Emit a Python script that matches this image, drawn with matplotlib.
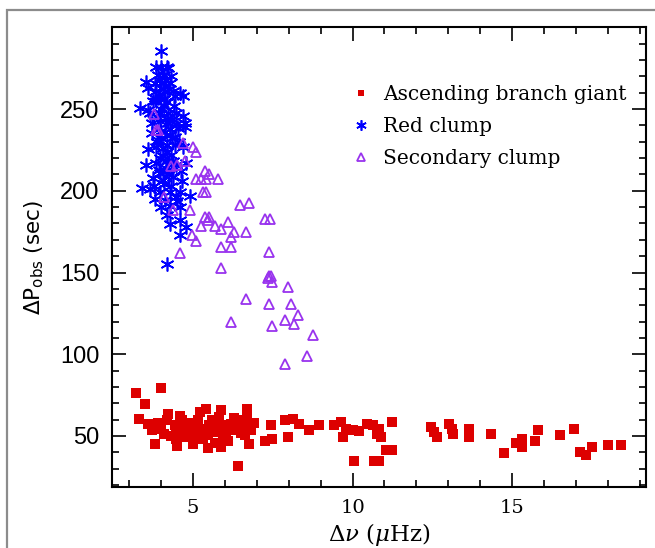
import numpy as np
import matplotlib
matplotlib.use("Agg")
import matplotlib.pyplot as plt
from matplotlib.patches import Rectangle
from matplotlib.ticker import MultipleLocator

# ascending branch giants (red squares)
rgb_dnu = [3.20, 3.99, 3.51, 3.31, 3.59, 3.70, 3.80, 4.01, 4.19, 4.22,
           4.43, 4.48, 4.48, 4.50, 4.64, 4.69, 4.79, 4.77, 5.00, 5.00,
           5.16, 5.23, 5.42, 5.26, 5.36, 5.47, 5.47, 5.63, 5.73, 5.83,
           5.89, 5.94, 5.94, 5.89, 6.04, 6.20, 6.25, 6.41, 6.46, 6.56,
           6.62, 6.70, 6.72, 6.77, 6.82, 7.27, 7.45, 7.48, 7.87, 7.97,
           8.13, 8.33, 8.65, 8.96, 9.43, 9.64, 9.69, 9.79, 10.05, 10.00,
           10.21, 10.47, 10.65, 10.83, 10.78, 10.89, 10.68, 10.83, 11.04, 11.25,
           11.25, 12.45, 12.55, 12.66, 13.02, 13.13, 13.16, 13.65, 13.65, 14.34,
           14.74, 15.14, 15.31, 15.31, 15.73, 15.83, 16.51, 16.93, 17.14, 17.31,
           17.52, 18.02, 18.42,
           4.60, 5.10, 5.30, 5.60, 5.90, 6.10, 6.30, 6.50, 4.90, 4.30,
           3.90, 5.70, 6.70, 6.90, 4.10, 5.50]
rgb_dp = [76.5, 79.4, 69.4, 60.5, 57.1, 53.5, 45.0, 54.5, 59.5, 63.6,
          56.5, 52.4, 48.4, 43.8, 59.5, 55.5, 52.4, 49.4, 50.4, 45.0,
          59.5, 64.6, 66.6, 54.5, 53.5, 50.4, 42.4, 56.5, 52.4, 61.5,
          65.6, 56.5, 49.4, 43.0, 50.4, 57.5, 53.5, 31.6, 59.5, 54.5,
          50.4, 66.6, 57.5, 45.4, 53.5, 46.8, 56.5, 48.4, 59.5, 49.4,
          60.5, 57.5, 53.5, 56.5, 56.5, 58.5, 49.4, 54.5, 34.8, 53.5,
          52.8, 57.5, 56.5, 54.5, 51.5, 49.4, 34.8, 34.8, 41.7, 41.7,
          58.5, 55.5, 52.4, 49.4, 57.5, 54.5, 51.5, 54.5, 49.4, 51.5,
          39.7, 45.8, 48.4, 43.3, 47.0, 53.5, 50.4, 54.5, 40.3, 38.3,
          43.3, 44.4, 44.4,
          62.0, 55.0, 48.0, 60.0, 53.0, 47.0, 61.0, 52.0, 58.0, 50.0,
          58.0, 46.0, 62.0, 58.0, 51.0, 57.0]

# red clump (blue asterisks)
rc_dnu = [4.01, 3.85, 4.01, 4.17, 4.22, 3.90, 4.10, 3.54, 3.59, 3.80,
          4.01, 4.27, 4.58, 4.69, 3.85, 4.11, 4.37, 3.33, 3.59, 3.75,
          3.96, 4.17, 4.43, 3.64, 3.96, 4.22, 4.48, 4.69, 3.70, 3.96,
          4.22, 4.48, 4.74, 3.70, 4.01, 4.27, 4.53, 4.74, 3.59, 3.85,
          4.17, 4.43, 4.69, 3.54, 3.85, 4.17, 4.48, 4.79, 3.75, 4.06,
          4.37, 4.64, 3.39, 3.64, 3.96, 4.27, 4.58, 4.90, 3.80, 4.11,
          4.48, 4.27, 4.58, 4.27, 4.58, 4.79, 4.58, 4.19, 3.90, 4.05,
          4.30, 4.15, 3.95, 4.35, 4.55, 4.10, 3.80, 4.00,
          3.95, 4.15, 4.30, 4.05, 4.25, 3.85, 4.40, 4.10, 3.90, 4.20,
          4.35, 4.00, 4.12, 4.28, 3.88, 4.45, 4.05, 4.20, 3.98, 4.38,
          4.15, 3.92, 4.25, 4.08, 4.32, 4.62, 3.78, 4.50, 4.00, 4.18]
rc_dp = [285.7, 276.0, 276.0, 276.0, 275.0, 270.9, 270.9, 266.3, 262.8, 265.8,
         265.8, 265.8, 259.8, 258.1, 260.8, 260.8, 260.8, 250.7, 249.7, 255.0,
         258.0, 254.0, 258.0, 247.6, 247.6, 247.6, 247.6, 246.0, 241.6, 242.5,
         241.6, 240.8, 241.6, 235.5, 236.5, 237.5, 238.5, 239.0, 225.8, 226.8,
         227.8, 227.8, 226.8, 216.0, 217.0, 218.0, 216.0, 217.0, 207.6, 206.6,
         208.6, 206.0, 202.0, 201.0, 199.5, 199.5, 199.5, 197.0, 195.0, 194.5,
         196.0, 190.6, 190.0, 179.9, 182.0, 178.0, 172.8, 155.2, 231.0, 221.0,
         222.0, 212.0, 211.0, 232.0, 230.0, 252.0, 257.0, 232.0,
         268.0, 268.0, 270.0, 262.0, 262.0, 255.0, 252.0, 256.0, 245.0, 244.0,
         244.0, 250.0, 236.0, 234.0, 230.0, 233.0, 226.0, 224.0, 220.0, 218.0,
         214.0, 213.0, 210.0, 204.0, 203.0, 212.0, 203.0, 194.0, 190.0, 185.0]

# secondary clump (purple open triangles)
sc_dnu = [3.77, 3.83, 3.90, 4.08, 4.38, 4.30, 4.50, 4.74, 4.69, 5.00,
          5.08, 5.37, 5.50, 5.10, 5.26, 5.40, 5.78, 5.31, 5.42, 4.90,
          6.46, 6.77, 5.37, 5.50, 5.47, 5.26, 5.68, 6.09, 5.89, 6.30,
          6.67, 6.18, 7.27, 7.40, 4.98, 5.08, 5.89, 6.20, 4.58, 7.38,
          5.89, 7.38, 7.45, 7.34, 7.48, 7.97, 6.67, 7.37, 8.07, 8.28,
          7.87, 8.16, 6.18, 7.48, 8.77, 8.56, 7.87]
sc_dp = [247.0, 237.0, 237.0, 196.0, 188.0, 215.0, 216.0, 218.0, 229.0, 227.0,
         224.0, 212.0, 210.0, 207.5, 207.5, 207.5, 207.0, 199.0, 199.0, 188.0,
         191.5, 192.5, 184.0, 184.0, 182.0, 178.5, 178.5, 181.0, 176.5, 175.0,
         175.0, 171.5, 182.5, 182.5, 173.0, 169.5, 165.7, 165.7, 161.7, 162.7,
         153.0, 148.0, 148.0, 146.5, 144.5, 141.0, 133.7, 130.7, 130.7, 123.8,
         120.8, 118.8, 119.8, 117.2, 111.7, 99.0, 94.0]

fig = plt.figure(figsize=(6.55, 5.48), dpi=100)
fig.patches.append(Rectangle((7 / 655, -0.1), 1.2, 1.1 - 9.5 / 548,
                             transform=fig.transFigure, fill=False,
                             edgecolor="#8c8c8c", lw=1.6))
ax = fig.add_axes([0.1705, 0.1119, 0.8157, 0.8383])

ax.plot(rgb_dnu, rgb_dp, ls="none", marker="s", ms=6.5, mew=0,
        color="#dd0000", label="Ascending branch giant")
ax.plot(rc_dnu, rc_dp, ls="none", marker=(6, 2, 0), ms=10, mew=1.2,
        color="#0000ff", label="Red clump")
ax.plot(sc_dnu, sc_dp, ls="none", marker="^", ms=7.8, mew=1.3,
        mfc="none", color="#9933ee", label="Secondary clump")

ax.set_xlim(2.45, 19.2)
ax.set_ylim(19, 300)
ax.set_xticks([5, 10, 15])
ax.set_yticks([50, 100, 150, 200, 250])
ax.xaxis.set_minor_locator(MultipleLocator(1))
ax.yaxis.set_minor_locator(MultipleLocator(10))
ax.tick_params(which="both", direction="in", top=True, right=True, width=1.2)
ax.tick_params(which="major", length=10)
ax.tick_params(which="minor", length=5)
ax.tick_params(axis="x", pad=9)
ax.tick_params(axis="y", pad=9)
for s in ax.spines.values():
    s.set_linewidth(1.5)

for t in ax.get_xticklabels():
    t.set_fontfamily("DejaVu Serif")
    t.set_fontsize(14)
for t in ax.get_yticklabels():
    t.set_fontfamily("Liberation Sans")
    t.set_fontsize(17)

ax.set_xlabel(r"$\Delta\nu$ ($\mu$Hz)", family="DejaVu Serif", fontsize=16.5,
              math_fontfamily="dejavuserif", labelpad=3)
ax.set_ylabel(r"$\Delta$P$_{\rm obs}$ (sec)", family="DejaVu Sans", fontsize=15.5,
              math_fontfamily="dejavusans", labelpad=10)

leg = ax.legend(loc="upper left", bbox_to_anchor=(0.455, 0.875), frameon=False,
                prop={"family": "DejaVu Serif", "size": 14.5}, markerscale=0.75,
                handlelength=0.6, handletextpad=0.8, labelspacing=0.65,
                borderaxespad=0, borderpad=0)

fig.savefig("out.png", dpi=100)
